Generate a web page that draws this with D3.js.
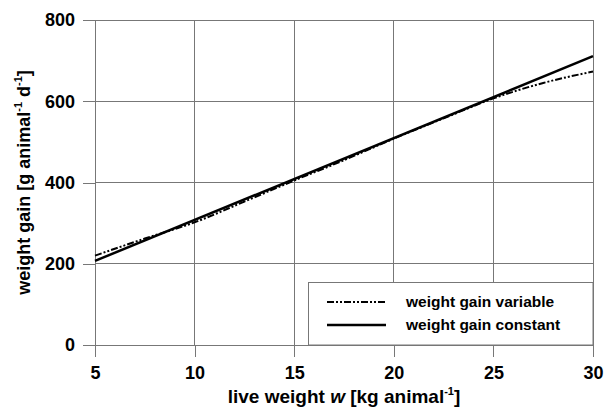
<!DOCTYPE html>
<html><head><meta charset="utf-8">
<script src="https://cdnjs.cloudflare.com/ajax/libs/d3/7.8.5/d3.min.js"></script>
<style>body{margin:0;background:#fff}svg{display:block}text{font-family:"Liberation Sans",Arial,sans-serif;font-weight:bold;fill:#000}</style>
</head><body>
<script>
const liveWeight = [5, 7.5, 10, 12.5, 15, 17.5, 20, 22.5, 25, 27.5, 30];
const gainVariable = [220, 262, 302, 353, 405, 455, 508, 558, 607, 645, 673];
const gainConstantX = [5, 30];
const gainConstant = [207, 711];
const xTicks = [5, 10, 15, 20, 25, 30];
const yTicks = [0, 200, 400, 600, 800];
const seriesNames = ["weight gain variable", "weight gain constant"];

const W = 604, H = 409;
const m = {l: 95, r: 11, t: 20, b: 64};
const svg = d3.select("body").append("svg").attr("width", W).attr("height", H);
const x = d3.scaleLinear().domain([5, 30]).range([m.l, W - m.r]);
const y = d3.scaleLinear().domain([0, 800]).range([H - m.b, m.t]);
const grid = "#777";

// grid
svg.append("g").selectAll("line").data(xTicks).join("line")
  .attr("x1", d => x(d)).attr("x2", d => x(d)).attr("y1", y(800)).attr("y2", y(0))
  .attr("stroke", grid).attr("stroke-width", 1).attr("shape-rendering", "crispEdges");
svg.append("g").selectAll("line").data(yTicks).join("line")
  .attr("x1", x(5)).attr("x2", x(30)).attr("y1", d => y(d)).attr("y2", d => y(d))
  .attr("stroke", grid).attr("stroke-width", 1).attr("shape-rendering", "crispEdges");

// axes
const xAxis = svg.append("g").attr("transform", `translate(0,${y(0)})`)
  .call(d3.axisBottom(x).tickValues(xTicks).tickSize(12).tickPadding(9).tickFormat(d3.format("d")));
const yAxis = svg.append("g").attr("transform", `translate(${x(5)},0)`)
  .call(d3.axisLeft(y).tickValues(yTicks).tickSize(12).tickPadding(8).tickFormat(d3.format("d")));
[xAxis, yAxis].forEach(a => {
  a.select(".domain").remove();
  a.selectAll("line").attr("stroke", grid).attr("shape-rendering", "crispEdges");
  a.selectAll("text").attr("font-size", 18).attr("font-weight", "bold").attr("fill", "#000")
    .attr("font-family", '"Liberation Sans",Arial,sans-serif');
});

// lines
const lineV = d3.line().x((d, i) => x(liveWeight[i])).y(d => y(d)).curve(d3.curveMonotoneX);
const lineC = d3.line().x((d, i) => x(gainConstantX[i])).y(d => y(d));
svg.append("path").attr("d", lineC(gainConstant)).attr("fill", "none").attr("stroke", "#000").attr("stroke-width", 2.5);
svg.append("path").attr("d", lineV(gainVariable)).attr("fill", "none").attr("stroke", "#000")
  .attr("stroke-width", 2).attr("stroke-dasharray", "7,2,2,2,2,2");

// legend
const lg = svg.append("g");
lg.append("rect").attr("x", 308.5).attr("y", 282.5).attr("width", x(30) - 308.5).attr("height", y(0) - 282.5)
  .attr("fill", "#fff").attr("stroke", grid).attr("stroke-width", 1);
const rows = [302, 325];
const dashes = ["7,2,2,2,2,2", null];
const widths = [2, 2.5];
seriesNames.forEach((n, i) => {
  lg.append("line").attr("x1", 327).attr("x2", 386).attr("y1", rows[i]).attr("y2", rows[i])
    .attr("stroke", "#000").attr("stroke-width", widths[i]).attr("stroke-dasharray", dashes[i]);
  lg.append("text").attr("x", 406).attr("y", rows[i]).attr("dy", "0.35em").attr("font-size", 15.5).text(n);
});

// axis titles
const xt = svg.append("text").attr("x", (x(5) + x(30)) / 2).attr("y", 403).attr("text-anchor", "middle").attr("font-size", 19);
xt.append("tspan").text("live weight ");
xt.append("tspan").attr("font-style", "italic").text("w");
xt.append("tspan").text(" [kg animal");
xt.append("tspan").attr("font-size", 11).attr("dy", -8).text("-1");
xt.append("tspan").attr("dy", 8).text("]");

const yt = svg.append("text").attr("transform", `translate(30,${(y(0) + y(800)) / 2}) rotate(-90)`)
  .attr("text-anchor", "middle").attr("font-size", 18);
yt.append("tspan").text("weight gain [g animal");
yt.append("tspan").attr("font-size", 11).attr("dy", -8).text("-1");
yt.append("tspan").attr("dy", 8).text(" d");
yt.append("tspan").attr("font-size", 11).attr("dy", -8).text("-1");
yt.append("tspan").attr("dy", 8).text("]");
</script>
</body></html>
